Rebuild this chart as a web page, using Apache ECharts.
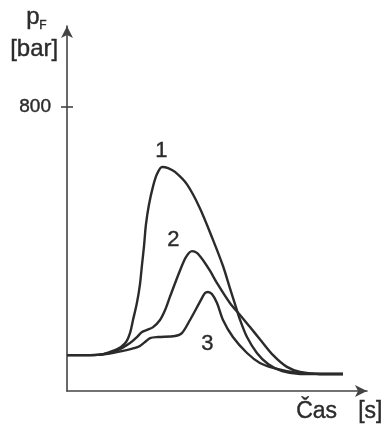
<!DOCTYPE html>
<html>
<head>
<meta charset="utf-8">
<script src="https://cdn.jsdelivr.net/npm/echarts@6/dist/echarts.min.js"></script>
<style>
  html, body { margin: 0; padding: 0; background: #fff; }
  #chart { width: 385px; height: 428px; }
</style>
</head>
<body>
<div id="chart"></div>
<script>
// time (arbitrary units) and pressure [bar]
const curveNames = ['1', '2', '3'];
const yTicks = [800];

const time1 = [0, 7.7, 12, 16, 18, 19.7, 21, 22, 23.3, 24.3, 25, 25.7, 26.3, 27.3, 28.7, 30, 31.7, 33.7, 36, 40, 44.3, 48.7, 52, 54.3, 56, 57.7, 60, 63.3, 67, 71.7, 77.7, 92];
const press1 = [101, 101, 104, 115, 124, 138, 163, 200, 248, 299, 355, 411, 468, 524, 577, 611, 631, 628, 617, 582, 515, 425, 352, 290, 245, 200, 152, 107, 76, 56, 48, 48];

const time2 = [0, 7.7, 12, 17, 21, 23.3, 25, 26.7, 28.7, 31, 32.7, 34.3, 37.7, 39.7, 41.7, 43.3, 45.3, 47.7, 50, 54.3, 58.3, 61, 64.3, 68.7, 73.3, 77.7, 84.3, 92];
const press2 = [101, 101, 103, 115, 135, 152, 166, 172, 180, 200, 228, 265, 340, 378, 394, 389, 369, 338, 304, 248, 208, 180, 146, 101, 68, 54, 48, 48];

const time3 = [0, 7.7, 13, 18.7, 23.7, 26, 27.7, 30.3, 36, 38.3, 41, 44.3, 46, 47, 48.3, 50, 52, 55.3, 60, 64.3, 68.7, 73.3, 77.7, 84.3, 92];
const press3 = [101, 101, 104, 113, 124, 138, 149, 152, 155, 163, 200, 251, 276, 279, 273, 248, 200, 152, 107, 79, 65, 56, 51, 48, 48];

const times = [time1, time2, time3];
const pressures = [press1, press2, press3];

const chart = echarts.init(document.getElementById('chart'), null, { renderer: 'canvas' });

const ink = '#2b2b2b';
const font = 'Liberation Sans, Arial, sans-serif';
const axisColor = '#444';

function txt(text, left, top, size) {
  return {
    type: 'text', left: left, top: top,
    style: { text: text, font: size + 'px ' + font, fill: ink, stroke: ink, lineWidth: 0.4 }
  };
}

const series = curveNames.map((name, i) => ({
  name: name,
  type: 'line',
  smooth: 0.3,
  showSymbol: false,
  lineStyle: { color: ink, width: 2.4 },
  data: times[i].map((t, j) => [t, pressures[i][j]])
}));

// inner half of the 800 tick (the outer half is the axis tick)
series[0].markLine = {
  silent: true,
  symbol: 'none',
  label: { show: false },
  lineStyle: { color: axisColor, width: 1.6, type: 'solid' },
  data: yTicks.map(v => [{ coord: [0, v] }, { coord: [2, v] }])
};

const option = {
  animation: false,
  backgroundColor: '#fff',
  grid: { left: 67, right: 18, top: 26, bottom: 37 },
  xAxis: {
    type: 'value',
    min: 0,
    max: 100,
    axisLine: {
      show: true,
      symbol: ['none', 'arrow'],
      symbolSize: [9, 12],
      lineStyle: { color: axisColor, width: 1.6 }
    },
    axisTick: { show: false },
    axisLabel: { show: false },
    splitLine: { show: false }
  },
  yAxis: {
    type: 'value',
    min: 0,
    max: 1028,
    axisLine: {
      show: true,
      symbol: ['none', 'arrow'],
      symbolSize: [9, 12],
      lineStyle: { color: axisColor, width: 1.6 }
    },
    axisTick: {
      show: true,
      length: 6,
      customValues: yTicks,
      lineStyle: { color: axisColor, width: 1.6 }
    },
    axisLabel: {
      customValues: yTicks,
      margin: 16,
      color: ink,
      fontSize: 19,
      fontFamily: font,
      textBorderColor: ink,
      textBorderWidth: 0.4
    },
    splitLine: { show: false }
  },
  series: series,
  graphic: [
    txt('p', 26, 5, 24),
    txt('F', 39, 19, 12),
    txt('[bar]', 10, 37, 24),
    txt('Čas', 296, 400, 23),
    txt('[s]', 358, 400, 23),
    txt(curveNames[0], 155, 140, 22),
    txt(curveNames[1], 167, 229, 22),
    txt(curveNames[2], 201, 333, 22)
  ]
};

chart.setOption(option);
window.addEventListener('resize', chart.resize);
</script>
</body>
</html>
